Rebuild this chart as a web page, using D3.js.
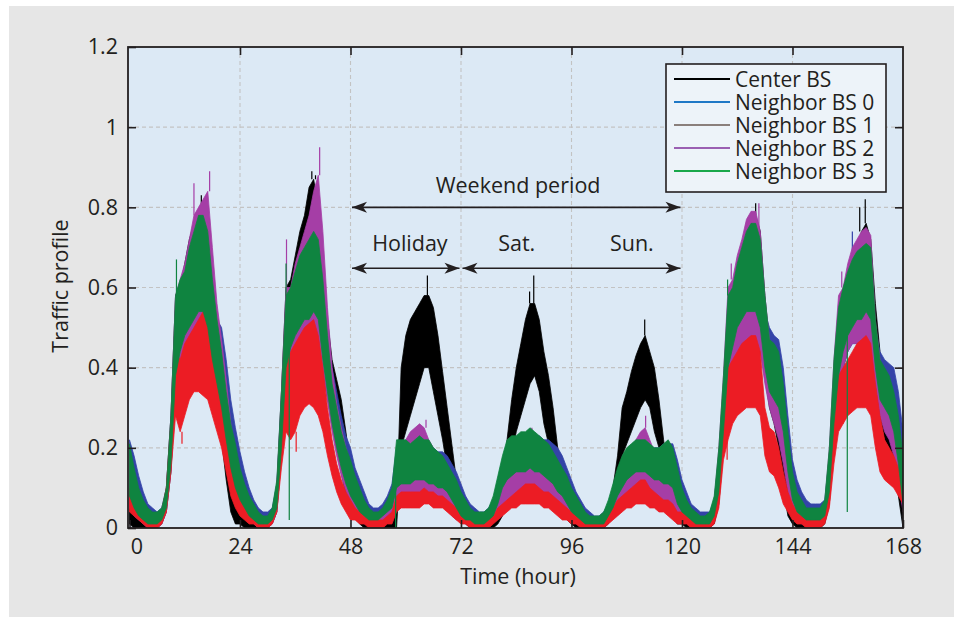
<!DOCTYPE html>
<meta charset="utf-8">
<style>

body {
  margin: 0;
  background: #fff;
}

text {
  font-family: "Open Sans", "Noto Sans", sans-serif;
  fill: #231f20;
}

.grid line {
  stroke: #c3c3c3;
  stroke-width: 1.1;
  stroke-dasharray: 4,3;
}

.axis path {
  display: none;
}

.axis line {
  stroke: #231f20;
  stroke-width: 1.6;
}

.frame {
  fill: none;
  stroke: #231f20;
  stroke-width: 1.8;
}

</style>
<svg width="954" height="617"></svg>
<script src="https://d3js.org/d3.v7.min.js"></script>
<script>

// hourly samples, 0..168 h
var hours = d3.range(0, 169);

var xTicks = [0, 24, 48, 72, 96, 120, 144, 168],
    yTicks = [0, 0.2, 0.4, 0.6, 0.8, 1, 1.2];

// envelopes: upper / lower edge of each noisy trace, one value per hour
var centerHi = [
  .10,.06,.04,.03,.02,.02,.02,.04,.10,.28,.58,.60,.66,.72,.76,.78,.80,.72,.60,.48,.40,.30,.18,.10,
  .06,.04,.03,.02,.02,.02,.02,.04,.10,.34,.60,.62,.68,.74,.78,.85,.87,.80,.68,.52,.42,.37,.32,.24,
  .15,.09,.06,.04,.03,.02,.02,.02,.03,.03,.05,.40,.48,.52,.54,.56,.58,.58,.55,.48,.39,.30,.21,.12,
  .06,.04,.02,.02,.01,.01,.02,.03,.06,.10,.22,.32,.40,.46,.52,.56,.56,.52,.44,.38,.30,.20,.12,.07,
  .05,.03,.02,.01,.01,.01,.01,.02,.04,.10,.18,.30,.34,.39,.43,.46,.48,.44,.40,.32,.22,.12,.06,.03,
  .04,.02,.02,.01,.01,.01,.02,.05,.16,.34,.56,.58,.64,.70,.76,.78,.78,.74,.58,.46,.42,.38,.28,.14,
  .05,.03,.02,.02,.02,.02,.02,.05,.16,.38,.52,.58,.62,.66,.70,.74,.76,.72,.56,.44,.38,.34,.28,.18,
  .06];
var centerLo = [
  .01,.00,.00,.00,.00,.00,.00,.01,.04,.14,.36,.40,.46,.48,.50,.50,.50,.46,.38,.30,.22,.12,.04,.01,
  .01,.00,.00,.00,.00,.00,.00,.01,.04,.18,.40,.42,.46,.50,.52,.54,.54,.50,.42,.34,.26,.20,.14,.08,
  .05,.03,.01,.00,.00,.00,.00,.00,.00,.00,.00,.20,.24,.28,.32,.36,.40,.40,.34,.28,.22,.15,.09,.04,
  .02,.01,.00,.00,.00,.00,.00,.00,.01,.03,.12,.18,.24,.28,.32,.36,.38,.34,.26,.21,.16,.10,.05,.02,
  .01,.00,.00,.00,.00,.00,.00,.00,.01,.04,.10,.18,.21,.24,.27,.30,.32,.30,.24,.20,.14,.07,.03,.01,
  .01,.00,.00,.00,.00,.00,.00,.01,.06,.20,.36,.40,.46,.50,.52,.52,.52,.46,.38,.30,.26,.20,.10,.03,
  .01,.00,.00,.00,.00,.00,.00,.01,.06,.22,.36,.40,.44,.48,.50,.52,.52,.48,.36,.28,.22,.20,.16,.08,
  .00];

var n0Hi = [
  .22,.18,.13,.09,.06,.05,.04,.05,.09,.26,.54,.56,.60,.62,.64,.64,.62,.60,.58,.52,.50,.42,.32,.25,
  .19,.14,.10,.07,.05,.04,.04,.05,.11,.32,.54,.56,.60,.62,.62,.62,.64,.62,.58,.50,.40,.34,.28,.23,
  .20,.15,.12,.09,.06,.05,.05,.06,.08,.11,.20,.20,.20,.20,.21,.21,.21,.21,.20,.19,.19,.18,.16,.14,
  .11,.08,.06,.05,.04,.04,.05,.07,.12,.17,.21,.22,.22,.23,.23,.23,.23,.23,.22,.22,.21,.20,.18,.15,
  .12,.09,.07,.05,.04,.03,.03,.04,.06,.10,.14,.17,.19,.20,.21,.21,.21,.20,.20,.20,.21,.21,.21,.17,
  .12,.09,.06,.05,.04,.04,.04,.07,.18,.35,.54,.56,.60,.62,.62,.62,.62,.60,.54,.50,.48,.47,.40,.28,
  .17,.12,.09,.07,.06,.06,.06,.07,.18,.38,.50,.54,.58,.60,.60,.60,.60,.58,.50,.44,.42,.41,.40,.34,
  .24];
var n0Lo = [
  .08,.05,.03,.02,.01,.01,.01,.02,.05,.15,.34,.40,.44,.46,.46,.46,.46,.44,.40,.34,.30,.24,.16,.10,
  .07,.05,.03,.02,.01,.01,.01,.02,.05,.19,.38,.40,.44,.46,.46,.46,.46,.44,.38,.32,.25,.20,.15,.11,
  .08,.06,.04,.03,.02,.02,.02,.03,.04,.05,.09,.10,.10,.10,.11,.11,.11,.10,.10,.10,.09,.08,.07,.05,
  .03,.02,.02,.01,.01,.01,.02,.03,.05,.08,.10,.11,.12,.12,.12,.12,.12,.12,.11,.10,.10,.08,.07,.06,
  .04,.03,.02,.01,.01,.01,.01,.01,.03,.05,.07,.09,.10,.10,.11,.11,.11,.11,.10,.10,.10,.10,.09,.06,
  .04,.03,.02,.01,.01,.01,.01,.03,.08,.22,.36,.40,.44,.46,.46,.46,.46,.44,.38,.32,.30,.28,.22,.14,
  .07,.04,.03,.02,.02,.02,.02,.03,.08,.24,.36,.40,.44,.46,.46,.46,.46,.44,.38,.32,.28,.26,.22,.15,
  .06];

var n1Hi = [
  .10,.07,.05,.03,.02,.02,.02,.04,.10,.26,.44,.42,.46,.48,.50,.52,.54,.52,.46,.38,.30,.24,.17,.12,
  .09,.06,.04,.03,.02,.02,.02,.03,.10,.28,.42,.44,.46,.48,.50,.51,.52,.48,.40,.30,.22,.16,.12,.09,
  .07,.05,.04,.03,.02,.02,.02,.02,.03,.04,.08,.09,.09,.09,.09,.09,.10,.09,.09,.08,.08,.07,.06,.05,
  .04,.03,.02,.02,.02,.02,.02,.03,.05,.06,.07,.08,.09,.10,.11,.11,.11,.10,.09,.09,.08,.07,.06,.05,
  .04,.03,.02,.02,.01,.01,.01,.02,.04,.05,.07,.08,.09,.10,.11,.12,.12,.10,.09,.08,.07,.07,.06,.04,
  .04,.03,.02,.02,.01,.01,.02,.04,.14,.32,.40,.42,.44,.46,.47,.48,.48,.44,.30,.25,.24,.20,.14,.09,
  .06,.04,.03,.02,.02,.02,.02,.03,.12,.30,.38,.40,.42,.44,.46,.47,.48,.46,.36,.28,.22,.20,.18,.15,
  .12];
var n1Lo = [
  .04,.03,.02,.01,.00,.00,.00,.01,.04,.14,.28,.24,.28,.32,.34,.34,.33,.32,.28,.24,.20,.14,.08,.05,
  .03,.02,.01,.01,.00,.00,.00,.01,.04,.15,.24,.22,.24,.28,.30,.31,.30,.28,.24,.18,.13,.09,.06,.04,
  .02,.02,.01,.01,.00,.00,.00,.00,.01,.01,.04,.05,.05,.05,.05,.05,.06,.06,.05,.05,.05,.04,.03,.02,
  .01,.01,.00,.00,.00,.00,.00,.01,.02,.03,.04,.05,.05,.06,.06,.06,.06,.06,.05,.05,.04,.03,.02,.02,
  .01,.01,.00,.00,.00,.00,.00,.00,.01,.02,.03,.04,.05,.05,.06,.06,.06,.05,.05,.04,.04,.03,.02,.01,
  .01,.01,.00,.00,.00,.00,.00,.01,.05,.17,.22,.26,.28,.29,.30,.30,.30,.28,.18,.14,.13,.10,.06,.04,
  .02,.01,.01,.00,.00,.00,.00,.01,.05,.16,.24,.26,.28,.29,.30,.30,.30,.28,.20,.14,.12,.11,.10,.08,
  .06];

var n2Hi = [
  .18,.13,.09,.06,.04,.03,.03,.05,.10,.28,.58,.62,.66,.72,.78,.80,.82,.84,.70,.56,.47,.37,.26,.19,
  .14,.10,.07,.05,.03,.02,.02,.04,.11,.34,.60,.60,.66,.70,.74,.78,.84,.88,.74,.55,.40,.31,.25,.20,
  .16,.12,.09,.06,.04,.03,.03,.04,.06,.08,.18,.20,.22,.24,.25,.26,.25,.22,.20,.18,.16,.14,.12,.10,
  .08,.06,.04,.03,.03,.03,.04,.06,.10,.14,.17,.19,.20,.21,.22,.23,.22,.21,.19,.17,.15,.13,.11,.09,
  .08,.06,.04,.03,.02,.02,.02,.03,.05,.08,.12,.15,.17,.19,.22,.24,.25,.22,.19,.17,.16,.15,.13,.10,
  .08,.06,.04,.03,.02,.02,.03,.07,.20,.38,.60,.62,.68,.72,.77,.79,.79,.74,.58,.47,.45,.42,.33,.21,
  .12,.08,.06,.04,.04,.04,.04,.06,.20,.42,.58,.60,.66,.70,.72,.74,.75,.73,.52,.42,.38,.36,.32,.25,
  .15];
var n2Lo = [
  .05,.03,.02,.01,.00,.00,.00,.01,.04,.14,.34,.40,.44,.46,.46,.46,.46,.46,.40,.34,.28,.20,.13,.08,
  .05,.03,.02,.01,.00,.00,.00,.01,.04,.18,.38,.40,.44,.46,.46,.46,.48,.48,.40,.32,.24,.18,.13,.09,
  .06,.04,.02,.01,.01,.01,.01,.01,.02,.03,.06,.07,.07,.07,.07,.08,.08,.08,.07,.07,.06,.05,.03,.02,
  .02,.01,.01,.00,.00,.00,.01,.02,.03,.05,.06,.07,.08,.08,.08,.08,.08,.08,.07,.07,.06,.05,.03,.02,
  .02,.01,.01,.00,.00,.00,.00,.01,.02,.03,.04,.05,.06,.06,.07,.07,.07,.06,.06,.05,.05,.04,.03,.02,
  .03,.02,.01,.00,.00,.00,.00,.02,.08,.22,.38,.40,.44,.46,.46,.46,.46,.44,.36,.30,.26,.22,.16,.09,
  .04,.02,.01,.01,.01,.01,.01,.02,.08,.24,.38,.40,.44,.46,.46,.46,.46,.44,.36,.28,.24,.22,.18,.12,
  .04];

var n3Hi = [
  .21,.15,.10,.07,.05,.04,.04,.05,.10,.28,.58,.62,.64,.70,.74,.78,.78,.74,.62,.52,.44,.34,.26,.21,
  .15,.11,.08,.06,.04,.03,.03,.05,.12,.34,.58,.60,.64,.68,.70,.72,.74,.72,.62,.48,.36,.30,.24,.20,
  .17,.13,.10,.07,.05,.04,.04,.05,.07,.10,.22,.22,.22,.21,.22,.23,.22,.22,.20,.19,.18,.16,.14,.12,
  .09,.07,.05,.04,.04,.04,.05,.08,.13,.18,.22,.23,.23,.24,.24,.25,.24,.23,.22,.21,.19,.17,.15,.13,
  .10,.08,.06,.04,.03,.03,.03,.04,.07,.11,.15,.18,.20,.21,.22,.22,.22,.21,.20,.20,.21,.22,.20,.15,
  .10,.07,.05,.04,.03,.03,.04,.08,.20,.38,.58,.60,.66,.70,.74,.76,.76,.72,.58,.47,.46,.44,.36,.24,
  .14,.09,.07,.05,.05,.05,.05,.07,.20,.42,.55,.60,.64,.67,.69,.70,.71,.70,.52,.42,.40,.38,.34,.28,
  .18];
var n3Lo = [
  .08,.05,.03,.02,.01,.01,.01,.02,.05,.16,.38,.44,.48,.50,.52,.54,.54,.50,.42,.36,.30,.22,.15,.10,
  .07,.05,.03,.02,.01,.01,.01,.02,.05,.20,.40,.45,.48,.50,.52,.52,.54,.52,.42,.34,.26,.20,.15,.11,
  .08,.06,.04,.03,.02,.02,.02,.03,.04,.05,.10,.11,.11,.11,.12,.12,.12,.11,.11,.10,.10,.09,.07,.05,
  .03,.02,.02,.01,.01,.01,.02,.03,.06,.10,.12,.13,.14,.14,.14,.15,.14,.14,.13,.12,.11,.09,.08,.06,
  .04,.03,.02,.01,.01,.01,.01,.01,.03,.05,.08,.10,.12,.13,.14,.14,.14,.13,.12,.12,.11,.11,.10,.06,
  .04,.03,.02,.01,.01,.01,.01,.03,.09,.24,.40,.45,.50,.52,.54,.54,.54,.50,.40,.34,.32,.30,.24,.14,
  .07,.04,.03,.02,.02,.02,.02,.03,.09,.26,.38,.44,.48,.50,.52,.52,.54,.52,.40,.32,.30,.28,.24,.16,
  .06];

// single-sample spikes above the envelope and dropouts below it: [hour, value]
var centerSpikes = [[15.6, .83], [39.6, .89], [40.4, .88], [64.7, .63], [86.9, .59], [87.8, .63], [111.9, .52], [136.0, .81], [158.6, .80], [159.8, .82]],
    n0Spikes = [[157.0, .74]],
    n2Spikes = [[14.0, .86], [17.4, .89], [34.1, .72], [41.3, .95], [64.4, .27], [87.4, .25], [112.1, .28], [130.7, .66], [136.7, .81], [154.7, .64]],
    n3Spikes = [[10.2, .67], [34.0, .66], [129.9, .62]];
var n1Dips = [[11.4, .21], [36.2, .19], [129.8, .17], [155.0, .27]],
    n3Dips = [[34.7, .02], [57.8, .00], [155.9, .04]];

// annotation arrows: hours spanned and level
var arrows = [
  {from: 48, to: 120, level: 0.8},
  {from: 48, to: 72, level: 0.648},
  {from: 72, to: 120, level: 0.648}
];
var notes = [
  {text: "Weekend period", hour: 84.4, level: 0.836},
  {text: "Holiday", hour: 60.9, level: 0.69},
  {text: "Sat.", hour: 84.1, level: 0.69},
  {text: "Sun.", hour: 109.1, level: 0.69}
];

var series = [
  {name: "Center BS",      hi: centerHi, lo: centerLo, color: "#000000", key: "#000000", spikes: centerSpikes, dips: [], order: 0},
  {name: "Neighbor BS 0",  hi: n0Hi,     lo: n0Lo,     color: "#3343a8", key: "#1f78c6", spikes: n0Spikes,     dips: [], order: 1},
  {name: "Neighbor BS 1",  hi: n1Hi,     lo: n1Lo,     color: "#ec1c24", key: "#8a7f7c", spikes: [],           dips: n1Dips, order: 3},
  {name: "Neighbor BS 2",  hi: n2Hi,     lo: n2Lo,     color: "#a53ea6", key: "#9a5fb2", spikes: n2Spikes,     dips: [], order: 2},
  {name: "Neighbor BS 3",  hi: n3Hi,     lo: n3Lo,     color: "#0f8440", key: "#19a74b", spikes: n3Spikes,     dips: n3Dips, order: 4}
];

var svg = d3.select("svg");

var plotLeft = 128, plotRight = 903, plotTop = 47, plotBottom = 528;

var x = d3.scaleLinear()
    .domain([0, 168])
    .range([129.5, plotRight]);

var y = d3.scaleLinear()
    .domain([0, 1.2])
    .range([plotBottom, plotTop]);

svg.append("rect")
    .attr("x", 9)
    .attr("y", 6)
    .attr("width", 945)
    .attr("height", 611)
    .attr("fill", "#e6e6e6");

svg.append("rect")
    .attr("x", plotLeft)
    .attr("y", plotTop)
    .attr("width", plotRight - plotLeft)
    .attr("height", plotBottom - plotTop)
    .attr("fill", "#dce9f5");

var grid = svg.append("g").attr("class", "grid");

grid.selectAll(".gx")
  .data(xTicks.slice(1, -1))
  .enter().append("line")
    .attr("x1", function(d) { return x(d); })
    .attr("x2", function(d) { return x(d); })
    .attr("y1", plotTop)
    .attr("y2", plotBottom);

grid.selectAll(".gy")
  .data(yTicks.slice(1, -1))
  .enter().append("line")
    .attr("x1", plotLeft)
    .attr("x2", plotRight)
    .attr("y1", function(d) { return y(d); })
    .attr("y2", function(d) { return y(d); });

svg.append("clipPath")
    .attr("id", "plot-clip")
  .append("rect")
    .attr("x", plotLeft)
    .attr("y", plotTop)
    .attr("width", plotRight - plotLeft)
    .attr("height", plotBottom - plotTop);

var plot = svg.append("g")
    .attr("clip-path", "url(#plot-clip)");

var drawn = series.slice().sort(function(a, b) { return a.order - b.order; });

drawn.forEach(function(s) {
  var area = d3.area()
      .x(function(d) { return x(d); })
      .y0(function(d) { return y(s.lo[d]); })
      .y1(function(d) { return y(s.hi[d]); });

  var g = plot.append("g");

  g.append("path")
      .datum(hours)
      .attr("d", area)
      .attr("fill", s.color)
      .attr("stroke", s.color)
      .attr("stroke-width", 0.8)
      .attr("stroke-linejoin", "round");

  g.selectAll(".spike")
    .data(s.spikes)
    .enter().append("line")
      .attr("x1", function(d) { return x(d[0]); })
      .attr("x2", function(d) { return x(d[0]); })
      .attr("y1", function(d) { return y(s.hi[Math.round(d[0])]); })
      .attr("y2", function(d) { return y(d[1]); })
      .attr("stroke", s.color)
      .attr("stroke-width", 1.2);

  g.selectAll(".dip")
    .data(s.dips)
    .enter().append("line")
      .attr("x1", function(d) { return x(d[0]); })
      .attr("x2", function(d) { return x(d[0]); })
      .attr("y1", function(d) { return y(s.lo[Math.round(d[0])]); })
      .attr("y2", function(d) { return y(d[1]); })
      .attr("stroke", s.color)
      .attr("stroke-width", 1.2);
});

// axes, ticks pointing inward on all four sides
svg.append("g")
    .attr("class", "axis")
    .attr("transform", "translate(0," + plotBottom + ")")
    .call(d3.axisBottom(x).tickValues(xTicks).tickSize(-8).tickPadding(11))
    .call(function(g) {
      g.selectAll("text").attr("font-size", 21.5).style("font-family", "Open Sans");
      g.selectAll(".tick").filter(function(d) { return d === 0; }).select("text").attr("dx", 7);
    });

svg.append("g")
    .attr("class", "axis")
    .attr("transform", "translate(0," + plotTop + ")")
    .call(d3.axisTop(x).tickValues(xTicks.slice(1, -1)).tickSize(-8).tickFormat(""));

svg.append("g")
    .attr("class", "axis")
    .attr("transform", "translate(" + plotLeft + ",0)")
    .call(d3.axisLeft(y).tickValues(yTicks).tickSize(-8).tickPadding(10).tickFormat(d3.format("~g")))
    .call(function(g) { g.selectAll("text").attr("font-size", 21.5).style("font-family", "Open Sans"); });

svg.append("g")
    .attr("class", "axis")
    .attr("transform", "translate(" + plotRight + ",0)")
    .call(d3.axisRight(y).tickValues(yTicks.slice(1, -1)).tickSize(-8).tickFormat(""));

svg.append("rect")
    .attr("class", "frame")
    .attr("x", plotLeft)
    .attr("y", plotTop)
    .attr("width", plotRight - plotLeft)
    .attr("height", plotBottom - plotTop);

svg.append("text")
    .attr("x", 518)
    .attr("y", 584)
    .attr("text-anchor", "middle")
    .attr("font-size", 21.5)
    .text("Time (hour)");

svg.append("text")
    .attr("transform", "translate(68,286) rotate(-90)")
    .attr("text-anchor", "middle")
    .attr("font-size", 21.5)
    .text("Traffic profile");

// annotations
svg.append("defs").append("marker")
    .attr("id", "head")
    .attr("viewBox", "-16 -8 18 16")
    .attr("refX", 0)
    .attr("refY", 0)
    .attr("markerWidth", 18)
    .attr("markerHeight", 16)
    .attr("markerUnits", "userSpaceOnUse")
    .attr("orient", "auto-start-reverse")
  .append("path")
    .attr("d", "M0,0L-15,-5.5L-11,0L-15,5.5Z")
    .attr("fill", "#231f20");

svg.selectAll(".arrow")
  .data(arrows)
  .enter().append("line")
    .attr("x1", function(d) { return x(d.from) + 1.5; })
    .attr("x2", function(d) { return x(d.to) - 1.5; })
    .attr("y1", function(d) { return y(d.level); })
    .attr("y2", function(d) { return y(d.level); })
    .attr("stroke", "#231f20")
    .attr("stroke-width", 1.6)
    .attr("marker-start", "url(#head)")
    .attr("marker-end", "url(#head)");

svg.selectAll(".note")
  .data(notes)
  .enter().append("text")
    .attr("x", function(d) { return x(d.hour); })
    .attr("y", function(d) { return y(d.level); })
    .attr("text-anchor", "middle")
    .attr("font-size", 21.5)
    .text(function(d) { return d.text; });

// legend
var legend = svg.append("g")
    .attr("transform", "translate(666,64)");

legend.append("rect")
    .attr("width", 220)
    .attr("height", 128)
    .attr("fill", "#edf3f9")
    .attr("stroke", "#231f20")
    .attr("stroke-width", 1.6);

var item = legend.selectAll(".item")
  .data(series)
  .enter().append("g")
    .attr("transform", function(d, i) { return "translate(0," + (15 + i * 23) + ")"; });

item.append("line")
    .attr("x1", 8)
    .attr("x2", 64)
    .attr("stroke", function(d) { return d.key; })
    .attr("stroke-width", 2);

item.append("text")
    .attr("x", 69)
    .attr("dy", "0.36em")
    .attr("font-size", 21)
    .text(function(d) { return d.name; });

</script>
